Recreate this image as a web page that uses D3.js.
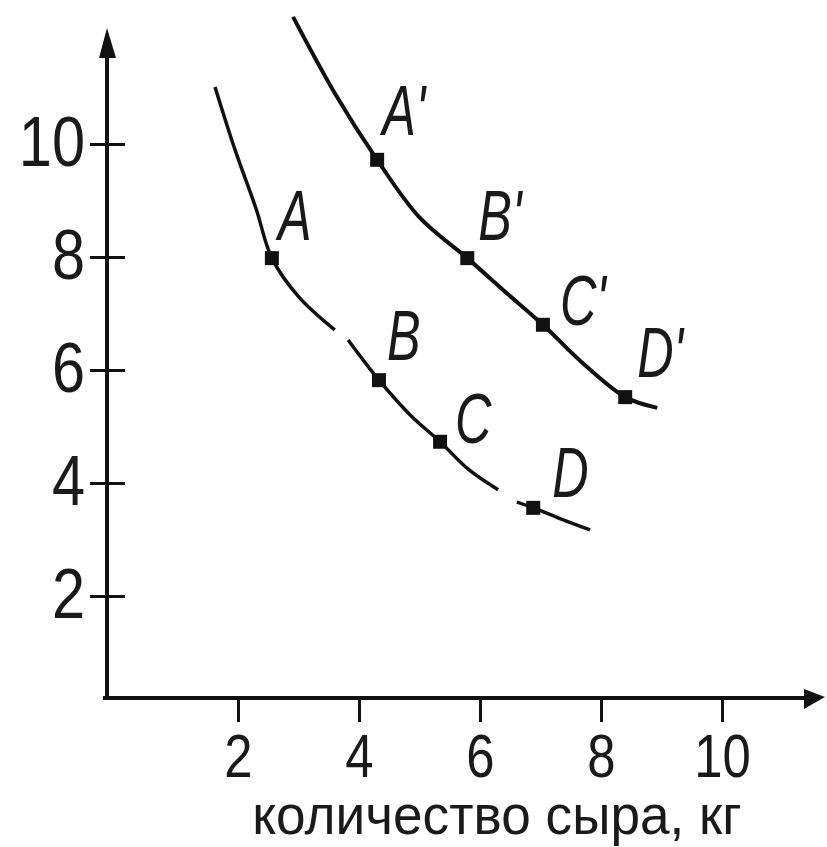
<!DOCTYPE html>
<html>
<head>
<meta charset="utf-8">
<script src="https://cdn.jsdelivr.net/npm/d3@7"></script>
<style>
  body { margin: 0; background: #fff; }
  svg text { font-family: "Liberation Sans", Arial, sans-serif; fill: #1a1a1a; }
</style>
</head>
<body>
<svg id="chart" width="827" height="847"></svg>
<script>
// axis ticks
var xTicks = [2, 4, 6, 8, 10];
var yTicks = [2, 4, 6, 8, 10];
var xTitle = "количество сыра, кг";

// lower curve (null = gap in the pen stroke)
var lowX = [1.62, 1.95, 2.30, 2.56, 3.00, 3.60, null, 3.82, 4.33, 4.85, 5.34, 5.80, 6.30, null, 6.61, 6.88, 7.30, 7.82];
var lowY = [11.01, 9.90, 8.85, 7.98, 7.30, 6.71, null, 6.53, 5.82, 5.20, 4.73, 4.25, 3.88, null, 3.66, 3.56, 3.38, 3.17];

// upper curve
var upX = [2.91, 3.60, 4.30, 5.00, 5.79, 6.40, 7.04, 7.70, 8.40, 8.93];
var upY = [12.25, 10.90, 9.72, 8.70, 7.98, 7.40, 6.80, 6.12, 5.52, 5.33];

// marked points
var ptNames = ["A", "B", "C", "D", "A'", "B'", "C'", "D'"];
var ptX = [2.56, 4.33, 5.34, 6.88, 4.30, 5.79, 7.04, 8.40];
var ptY = [7.98, 5.82, 4.73, 3.56, 9.72, 7.98, 6.80, 5.52];

// label placement relative to the marker (layout only)
var labelDx = [6, 8, 15, 19, 5, 11, 17, 12];
var labelDy = [-18, -20, 1, -11, -25, -18, 0, -20];

var svg = d3.select("#chart");
var x = d3.scaleLinear().domain([0, 10]).range([117, 722]);
var y = d3.scaleLinear().domain([0, 10]).range([709, 144]);

var axisX0 = 107, axisY0 = 698;

// narrow the font horizontally (no condensed face installed)
function squeeze(sel, sx) {
    sel.each(function() {
        var t = d3.select(this);
        var tx = +t.attr("x") || 0, ty = +t.attr("y") || 0;
        t.attr("x", 0).attr("y", 0)
         .attr("transform", "translate(" + tx + "," + ty + ") scale(" + sx + ",1)");
    });
}

// axis lines with arrows
svg.append("line").attr("x1", axisX0).attr("x2", axisX0).attr("y1", axisY0 + 2).attr("y2", 40)
    .attr("stroke", "#111").attr("stroke-width", 4);
svg.append("line").attr("x1", 103).attr("x2", 812).attr("y1", axisY0).attr("y2", axisY0)
    .attr("stroke", "#111").attr("stroke-width", 4);
svg.append("path").attr("d", "M" + axisX0 + ",28 L" + (axisX0 - 8) + ",58 L" + (axisX0 + 9) + ",58 Z").attr("fill", "#111");
svg.append("path").attr("d", "M825,697 L804,689 L804,709 Z").attr("fill", "#111");

// y axis ticks
var yAxis = svg.append("g").attr("transform", "translate(" + axisX0 + ",0)")
    .call(d3.axisLeft(y).tickValues(yTicks).tickSize(17).tickPadding(6));
yAxis.select(".domain").remove();
yAxis.selectAll(".tick line").attr("x1", 18).attr("stroke", "#111").attr("stroke-width", 3);
yAxis.selectAll(".tick text").attr("font-size", 70).attr("font-family", null)
    .attr("x", -22).attr("y", -4).attr("dy", "0.36em").call(squeeze, 0.85);

// x axis ticks
var xAxis = svg.append("g").attr("transform", "translate(0," + axisY0 + ")")
    .call(d3.axisBottom(x).tickValues(xTicks).tickSize(24).tickPadding(4));
xAxis.select(".domain").remove();
xAxis.selectAll(".tick line").attr("stroke", "#111").attr("stroke-width", 3);
xAxis.selectAll(".tick text").attr("font-size", 62).attr("font-family", null)
    .attr("y", 79).attr("dy", null).call(squeeze, 0.82);

svg.append("text").attr("x", 497).attr("y", 834).attr("text-anchor", "middle")
    .attr("font-size", 56).text(xTitle).call(squeeze, 0.95);

// curves
var line = d3.line()
    .defined(function(d) { return d[0] != null; })
    .x(function(d) { return x(d[0]); })
    .y(function(d) { return y(d[1]); })
    .curve(d3.curveCatmullRom);

svg.append("path").datum(d3.zip(lowX, lowY)).attr("d", line)
    .attr("fill", "none").attr("stroke", "#111").attr("stroke-width", 3.5);
svg.append("path").datum(d3.zip(upX, upY)).attr("d", line)
    .attr("fill", "none").attr("stroke", "#111").attr("stroke-width", 4);

// markers and labels
var pts = d3.range(ptNames.length);
svg.selectAll("rect.pt").data(pts).enter().append("rect").attr("class", "pt")
    .attr("x", function(i) { return x(ptX[i]) - 7; })
    .attr("y", function(i) { return y(ptY[i]) - 7; })
    .attr("width", 14).attr("height", 14).attr("fill", "#111");

svg.selectAll("text.lbl").data(pts).enter().append("text").attr("class", "lbl")
    .attr("x", function(i) { return x(ptX[i]) + labelDx[i]; })
    .attr("y", function(i) { return y(ptY[i]) + labelDy[i]; })
    .attr("font-size", 70).attr("font-style", "italic")
    .text(function(i) { return ptNames[i]; })
    .call(squeeze, 0.72);
</script>
</body>
</html>
